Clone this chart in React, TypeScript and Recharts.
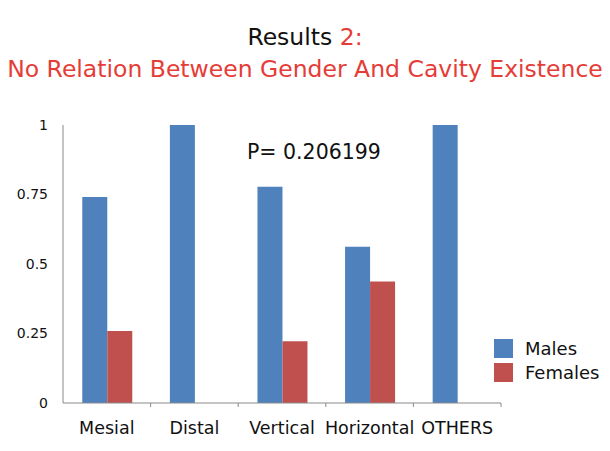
import { BarChart, Bar, XAxis, YAxis } from 'recharts';

// Share of cavities by location, males vs females
const categories = ['Mesial', 'Distal', 'Vertical', 'Horizontal', 'OTHERS'];
const males = [0.7407, 1, 0.7778, 0.5625, 1];
const females = [0.2593, 0, 0.2222, 0.4375, 0];
const yTicks = [0, 0.25, 0.5, 0.75, 1];
const seriesNames = ['Males', 'Females'];

const data = categories.map((name, i) => ({ name, Males: males[i], Females: females[i] }));

const W = 610;
const H = 451;
const MARGIN = { top: 125, right: 109, bottom: 18, left: 0 };
const Y_AXIS_W = 63;
const LABEL_GAP = 19;
const FONT = '"DejaVu Sans", sans-serif';
const BLUE = '#4f81bd';
const RED = '#c0504d';
const TITLE_RED = '#e63c37';
const colors = [BLUE, RED];

const band = (W - MARGIN.right - Y_AXIS_W) / categories.length;

// category label plus small tick marks on the category boundaries
const CategoryTick = (props: any) => {
  const { x, y, payload, index } = props;
  const axisY = y - LABEL_GAP;
  const isLast = index === categories.length - 1;
  return (
    <g>
      {index > 0 && (
        <line x1={x - band / 2} x2={x - band / 2} y1={axisY} y2={axisY + 4} stroke="#8a8a8a" />
      )}
      {isLast && (
        <line x1={x + band / 2} x2={x + band / 2} y1={axisY} y2={axisY + 4} stroke="#8a8a8a" />
      )}
      <text x={x} y={y} dy="0.71em" textAnchor="middle" fontSize={17.5} fill="#111" fontFamily={FONT}>
        {payload.value}
      </text>
    </g>
  );
};

export default function App() {
  return (
    <div style={{ position: 'absolute', left: 0, top: 0, width: W, height: H, background: '#fff' }}>
      <div
        style={{
          position: 'absolute',
          top: 21,
          width: W,
          textAlign: 'center',
          fontFamily: FONT,
          fontSize: 23.5,
          lineHeight: '32px',
        }}
      >
        <div style={{ color: '#111' }}>
          Results <span style={{ color: TITLE_RED }}>2:</span>
        </div>
        <div style={{ color: TITLE_RED }}>No Relation Between Gender And Cavity Existence</div>
      </div>
      <div
        style={{
          position: 'absolute',
          left: 247,
          top: 140,
          fontFamily: FONT,
          fontSize: 20.5,
          color: '#111',
          zIndex: 2,
        }}
      >
        P= 0.206199
      </div>
      <div
        style={{
          position: 'absolute',
          left: 494,
          top: 336,
          fontFamily: FONT,
          fontSize: 18,
          color: '#111',
          zIndex: 2,
        }}
      >
        {seriesNames.map((label, i) => (
          <div key={label} style={{ display: 'flex', alignItems: 'center', height: 24 }}>
            <span style={{ width: 19, height: 19, background: colors[i], marginRight: 12, display: 'inline-block' }} />
            <span>{label}</span>
          </div>
        ))}
      </div>
      <BarChart width={W} height={H} data={data} margin={MARGIN} barCategoryGap="22%" barGap={0}>
        <XAxis
          dataKey="name"
          height={30}
          stroke="#8a8a8a"
          tickLine={false}
          tickSize={0}
          tickMargin={LABEL_GAP}
          tick={<CategoryTick />}
          interval={0}
        />
        <YAxis
          width={Y_AXIS_W}
          domain={[0, 1]}
          ticks={yTicks}
          stroke="#8a8a8a"
          tickLine={false}
          tickSize={0}
          tickMargin={15}
          tick={{ fontSize: 14, fill: '#111', fontFamily: FONT }}
        />
        {seriesNames.map((name, i) => (
          <Bar key={name} dataKey={name} fill={colors[i]} isAnimationActive={false} />
        ))}
      </BarChart>
    </div>
  );
}
